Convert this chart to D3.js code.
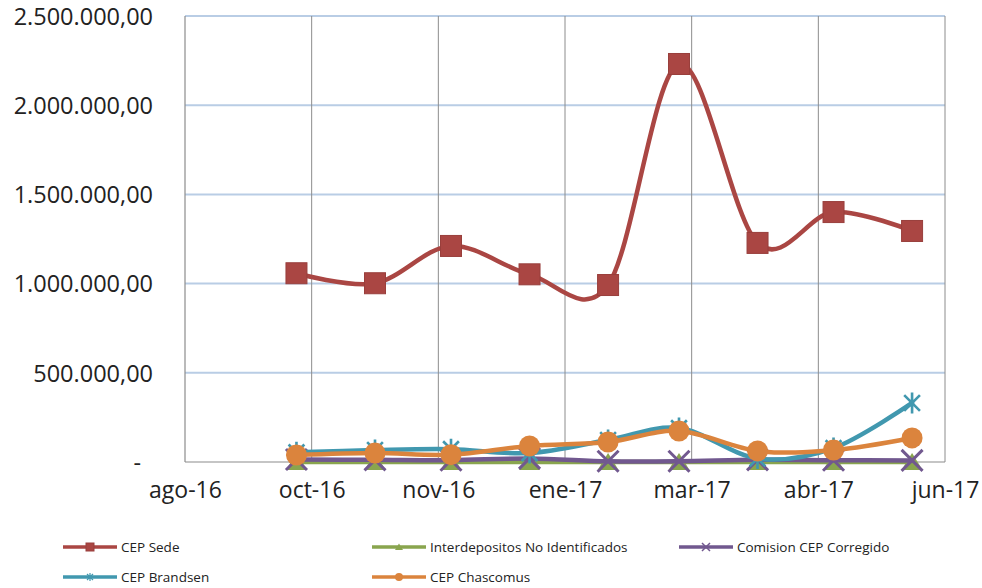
<!DOCTYPE html>
<html>
<head>
<meta charset="utf-8">
<script src="https://cdn.jsdelivr.net/npm/d3@7"></script>
<style>
  html, body { margin: 0; padding: 0; background: #fff; }
  svg { display: block; }
  text { font-family: "Open Sans", "Liberation Sans", sans-serif; fill: #222; }
</style>
</head>
<body>
<svg id="chart" width="982" height="588"></svg>
<script>
// ---------- data ----------
const dates = ["2016-09-30","2016-10-31","2016-11-30","2016-12-31","2017-01-31","2017-02-28","2017-03-31","2017-04-30","2017-05-31"];
const cepSede       = [1058000, 1002000, 1211000, 1052000, 992000, 2231000, 1228000, 1401000, 1295000];
const interdepositos= [0, 0, 0, 0, 0, 0, 0, 0, 0];
const comisionCEP   = [14000, 12000, 10000, 20000, 4000, 4000, 12000, 10000, 9000];
const cepBrandsen   = [54000, 67000, 72000, 50000, 123000, 190000, 20000, 78000, 331000];
const cepChascomus  = [39000, 50000, 41000, 90000, 112000, 174000, 62000, 67000, 135000];
const seriesNames   = ["CEP Sede", "Interdepositos No Identificados", "Comision CEP Corregido", "CEP Brandsen", "CEP Chascomus"];
const xTickLabels   = ["ago-16", "oct-16", "nov-16", "ene-17", "mar-17", "abr-17", "jun-17"];
const xAxisStart    = "2016-08-17";
const xMajorDays    = 50;
const yTicks        = [0, 500000, 1000000, 1500000, 2000000, 2500000];

// ---------- styling ----------
const colors  = ["#AA4643", "#89A54E", "#71588F", "#4198AF", "#DB843D"];
const markers = ["square", "triangle", "x", "star", "circle"];
const values  = [cepSede, interdepositos, comisionCEP, cepBrandsen, cepChascomus];

const svg = d3.select("#chart");
const L = 185, R = 945, T = 16, B = 462;

const parse = d3.utcParse("%Y-%m-%d");
const start = parse(xAxisStart);
const tickDates = xTickLabels.map((_, i) => d3.utcDay.offset(start, i * xMajorDays));
const x = d3.scaleUtc().domain([start, tickDates[tickDates.length - 1]]).range([L, R]);
const y = d3.scaleLinear().domain([0, 2500000]).range([B, T]);

const loc = d3.formatLocale({ decimal: ",", thousands: ".", grouping: [3], currency: ["", ""] });
const fmt = loc.format(",.2f");

// horizontal gridlines
svg.append("g").selectAll("line").data(yTicks.filter(v => v > 0)).join("line")
  .attr("x1", L).attr("x2", R)
  .attr("y1", d => y(d)).attr("y2", d => y(d))
  .attr("stroke", "#B9CDE5").attr("stroke-width", 2);

// vertical gridlines
svg.append("g").selectAll("line").data(tickDates.slice(1)).join("line")
  .attr("x1", d => x(d)).attr("x2", d => x(d))
  .attr("y1", T).attr("y2", B)
  .attr("stroke", "#8C8C8C").attr("stroke-width", 1);

// axes lines
svg.append("line").attr("x1", L).attr("x2", L).attr("y1", T).attr("y2", B)
  .attr("stroke", "#8C8C8C").attr("stroke-width", 1.2);
svg.append("line").attr("x1", L).attr("x2", R).attr("y1", B).attr("y2", B)
  .attr("stroke", "#8C8C8C").attr("stroke-width", 1.2);

// y labels
const yAxis = d3.axisLeft(y).tickValues(yTicks).tickSize(0).tickPadding(0)
  .tickFormat(d => d === 0 ? "-" : fmt(d));
const gy = svg.append("g").attr("transform", `translate(${L - 32},0)`).call(yAxis);
gy.select(".domain").remove();
gy.selectAll("text").attr("font-size", 23.5).attr("font-family", '"Open Sans", sans-serif')
  .attr("fill", "#222").attr("dy", "0.35em")
  .attr("x", d => d === 0 ? -12 : 0);

// x labels
const xAxis = d3.axisBottom(x).tickValues(tickDates).tickSize(0).tickPadding(0)
  .tickFormat((d, i) => xTickLabels[i]);
const gx = svg.append("g").attr("transform", `translate(0,${B + 20})`).call(xAxis);
gx.select(".domain").remove();
gx.selectAll("text").attr("font-size", 23).attr("font-family", '"Open Sans", sans-serif')
  .attr("fill", "#222").attr("dy", "0.71em");

// marker drawing
function drawMarker(g, type, color, s) {
  const h = s / 2;
  if (type === "square") {
    g.append("rect").attr("x", -h).attr("y", -h).attr("width", s).attr("height", s)
      .attr("fill", color).attr("stroke", d3.color(color).darker(0.3)).attr("stroke-width", 1);
  } else if (type === "circle") {
    g.append("circle").attr("r", h).attr("fill", color);
  } else if (type === "triangle") {
    g.append("path").attr("d", `M0,${-h * 0.85}L${h},${h * 0.75}L${-h},${h * 0.75}Z`).attr("fill", color);
  } else if (type === "x") {
    g.append("path").attr("d", `M${-h},${-h}L${h},${h}M${-h},${h}L${h},${-h}`)
      .attr("stroke", color).attr("stroke-width", Math.max(1.5, s / 7)).attr("fill", "none");
  } else if (type === "star") {
    const k = h * 0.75;
    g.append("path").attr("d", `M${-k},${-k}L${k},${k}M${-k},${k}L${k},${-k}M0,${-h}L0,${h}`)
      .attr("stroke", color).attr("stroke-width", Math.max(1.2, s / 8)).attr("fill", "none");
  }
}

const line = d3.line().curve(d3.curveCardinal.tension(0))
  .x(d => x(d[0])).y(d => y(d[1]));

const parsedDates = dates.map(parse);
values.forEach((vals, si) => {
  const pts = parsedDates.map((d, i) => [d, vals[i]]);
  const g = svg.append("g");
  g.append("path").datum(pts).attr("d", line)
    .attr("fill", "none").attr("stroke", colors[si]).attr("stroke-width", 4.5)
    .attr("stroke-linejoin", "round").attr("stroke-linecap", "round");
  pts.forEach(p => {
    const mg = g.append("g").attr("transform", `translate(${x(p[0])},${y(p[1])})`);
    drawMarker(mg, markers[si], colors[si], 21);
  });
});

// legend
const legendItems = [
  { i: 0, x: 63, y: 547 },
  { i: 1, x: 372, y: 547 },
  { i: 2, x: 679, y: 547 },
  { i: 3, x: 63, y: 577 },
  { i: 4, x: 372, y: 577 }
];
legendItems.forEach(it => {
  const g = svg.append("g").attr("transform", `translate(${it.x},${it.y})`);
  g.append("line").attr("x1", 0).attr("x2", 54).attr("y1", 0).attr("y2", 0)
    .attr("stroke", colors[it.i]).attr("stroke-width", 3.5);
  const mg = g.append("g").attr("transform", "translate(27,0)");
  drawMarker(mg, markers[it.i], colors[it.i], 8);
  g.append("text").attr("x", 58).attr("y", 0).attr("dy", "0.35em")
    .attr("font-size", 13.5).text(seriesNames[it.i]);
});
</script>
</body>
</html>
